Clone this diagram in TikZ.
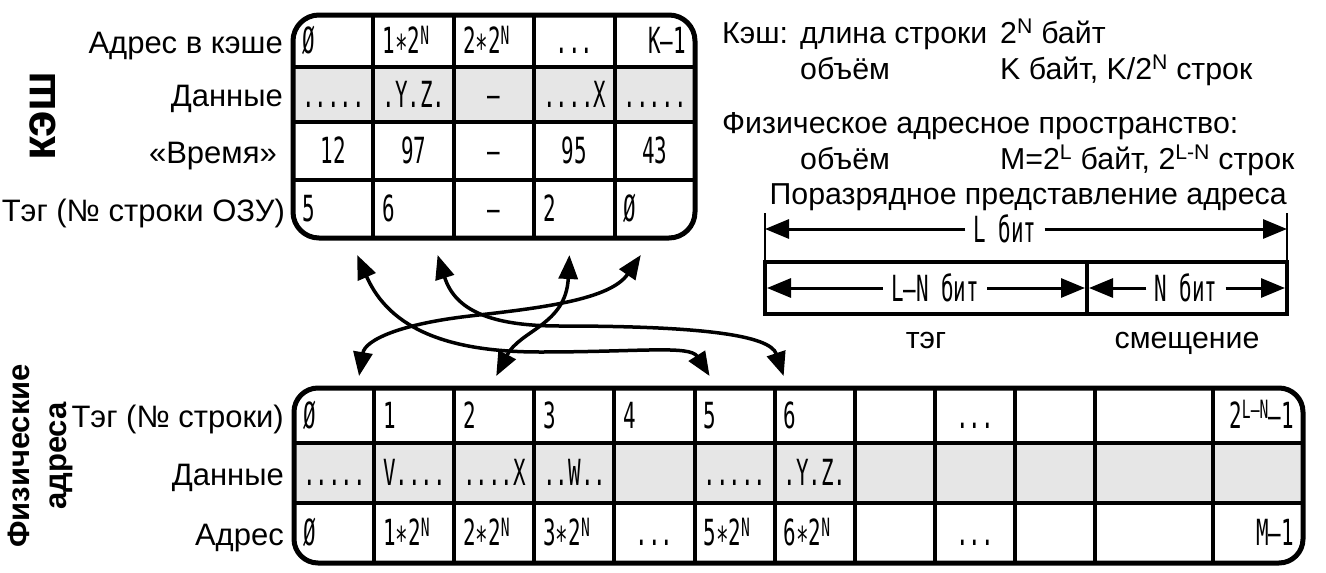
\documentclass[tikz,border=0pt]{standalone}
\usepackage{fontspec}
\setmainfont{Liberation Sans}
\newfontfamily\gost[FakeStretch=0.58]{DejaVu Sans Mono}
\usepackage{xcolor}
\usepackage{tikz}
\usetikzlibrary{calc, positioning, arrows.meta}
\definecolor{datagray}{HTML}{E6E6E6}

\begin{document}
\begin{tikzpicture}[x=1pt, y=-1pt, >={Triangle[length=24pt, width=19pt]},
    cell/.style={inner xsep=9pt, inner ysep=0pt, outer sep=0pt, text width=62pt,
        text height=25pt, text depth=0pt, font=\gost\fontsize{36}{37}\selectfont},
    lft/.style={align=left}, ctr/.style={align=center}, rgt/.style={align=right},
    data/.style={fill=datagray},
    rule/.style={line width=4pt},
    outline/.style={line width=5pt, rounded corners=26pt},
    lbl/.style={inner sep=0pt, font=\fontsize{31}{35}\selectfont},
    note/.style={inner sep=0pt, anchor=base west, font=\fontsize{30.3}{35}\selectfont},
    link/.style={<->, line width=3.5pt},
    dim/.style={->, line width=3pt},
    dimtxt/.style={inner xsep=8pt, font=\gost\fontsize{36}{37}\selectfont},
    part/.style={draw, line width=4.5pt, outer sep=0pt, minimum height=52pt}]
    \useasboundingbox (0,0) rectangle (1326,573);

    % 1. Кэш
    \foreach \j/\al/\t in {1/lft/Ø, 2/lft/{1∗2\textsuperscript{N}}, 3/lft/{2∗2\textsuperscript{N}}, 4/ctr/{...}, 5/rgt/{K–1}} {
        \node[cell, \al, minimum width=80.4pt, minimum height=52pt] (c-1-\j) at ({80.4*\j+252.8}, 41) {\t};
    }
    \foreach \j/\al/\t in {1/ctr/{.....}, 2/ctr/{.Y.Z.}, 3/ctr/{–}, 4/ctr/{....X}, 5/ctr/{.....}} {
        \node[cell, data, \al, minimum width=80.4pt, minimum height=55pt] (c-2-\j) at ({80.4*\j+252.8}, 94.5) {\t};
    }
    \foreach \j/\al/\t in {1/ctr/12, 2/ctr/97, 3/ctr/{–}, 4/ctr/95, 5/ctr/43} {
        \node[cell, \al, minimum width=80.4pt, minimum height=58pt] (c-3-\j) at ({80.4*\j+252.8}, 151) {\t};
    }
    \foreach \j/\al/\t in {1/lft/5, 2/lft/6, 3/ctr/{–}, 4/lft/2, 5/lft/Ø} {
        \node[cell, \al, minimum width=80.4pt, minimum height=58pt] (c-4-\j) at ({80.4*\j+252.8}, 209) {\t};
    }
    \foreach \j in {1,...,4} {
        \draw[rule] (c-1-\j.north east) -- (c-4-\j.south east);
    }
    \foreach \i in {1,2,3} {
        \draw[rule] (c-\i-1.south west) -- (c-\i-5.south east);
    }
    \draw[outline] (c-1-1.north west) rectangle (c-4-5.south east);

    \node[lbl, anchor=base east] (lc-1) at ($(c-1-1.west)+(-10,12)$) {Адрес в кэше};
    \node[lbl, anchor=base east] (lc-2) at ($(c-2-1.west)+(-10,12)$) {Данные};
    \node[lbl, anchor=base east] (lc-3) at ($(c-3-1.west)+(-16,12)$) {«Время»};
    \node[lbl, anchor=base east] (lc-4) at ($(c-4-1.west)+(-8,12)$) {Тэг (№ строки ОЗУ)};
    \node[lbl, font=\bfseries\fontsize{48}{50}\selectfont, rotate=90] (kesh) at (43,116) {кэш};

    % 2. Физические адреса
    \foreach \j/\al/\t [evaluate=\j as \cx using {\j<11 ? 80.1*\j+253.95 : (\j<12 ? 1154 : 1258)},
            evaluate=\j as \cw using {\j<11 ? 80.1 : (\j<12 ? 118 : 90)},
            evaluate=\j as \tw using {\j<11 ? 62.1 : (\j<12 ? 100 : 72)}]
        in {1/lft/Ø, 2/lft/1, 3/lft/2, 4/lft/3, 5/lft/4, 6/lft/5, 7/lft/6, 8/ctr/{}, 9/ctr/{...}, 10/ctr/{}, 11/ctr/{}, 12/rgt/{2\textsuperscript{L–N}–1}} {
        \node[cell, \al, minimum width=\cw pt, text width=\tw pt, minimum height=55pt] (p-1-\j) at (\cx, 415.5) {\t};
    }
    \foreach \j/\al/\t [evaluate=\j as \cx using {\j<11 ? 80.1*\j+253.95 : (\j<12 ? 1154 : 1258)},
            evaluate=\j as \cw using {\j<11 ? 80.1 : (\j<12 ? 118 : 90)},
            evaluate=\j as \tw using {\j<11 ? 62.1 : (\j<12 ? 100 : 72)}]
        in {1/ctr/{.....}, 2/ctr/{V....}, 3/ctr/{....X}, 4/ctr/{..W..}, 5/ctr/{}, 6/ctr/{.....}, 7/ctr/{.Y.Z.}, 8/ctr/{}, 9/ctr/{}, 10/ctr/{}, 11/ctr/{}, 12/ctr/{}} {
        \node[cell, data, \al, minimum width=\cw pt, text width=\tw pt, minimum height=60pt] (p-2-\j) at (\cx, 473) {\t};
    }
    \foreach \j/\al/\t [evaluate=\j as \cx using {\j<11 ? 80.1*\j+253.95 : (\j<12 ? 1154 : 1258)},
            evaluate=\j as \cw using {\j<11 ? 80.1 : (\j<12 ? 118 : 90)},
            evaluate=\j as \tw using {\j<11 ? 62.1 : (\j<12 ? 100 : 72)}]
        in {1/lft/Ø, 2/lft/{1∗2\textsuperscript{N}}, 3/lft/{2∗2\textsuperscript{N}}, 4/lft/{3∗2\textsuperscript{N}}, 5/ctr/{...}, 6/lft/{5∗2\textsuperscript{N}}, 7/lft/{6∗2\textsuperscript{N}}, 8/ctr/{}, 9/ctr/{...}, 10/ctr/{}, 11/ctr/{}, 12/rgt/{M–1}} {
        \node[cell, \al, minimum width=\cw pt, text width=\tw pt, minimum height=60pt] (p-3-\j) at (\cx, 533) {\t};
    }
    \foreach \j in {1,...,11} {
        \draw[rule] (p-1-\j.north east) -- (p-3-\j.south east);
    }
    \foreach \i in {1,2} {
        \draw[rule] (p-\i-1.south west) -- (p-\i-12.south east);
    }
    \draw[outline, rounded corners=24pt] (p-1-1.north west) rectangle (p-3-12.south east);

    \node[lbl, anchor=base east] (lp-1) at ($(p-1-1.west)+(-10,12)$) {Тэг (№ строки)};
    \node[lbl, anchor=base east] (lp-2) at ($(p-2-1.west)+(-10,12)$) {Данные};
    \node[lbl, anchor=base east] (lp-3) at ($(p-3-1.west)+(-10,12)$) {Адрес};
    \node[lbl, font=\bfseries\fontsize{31}{37}\selectfont, align=center, rotate=90] (phys) at (40,456) {Физические\\адреса};

    % 3. Связи строк кэша со строками ОЗУ
    \draw[link] ($(c-4-1.south)+(24,17)$) .. controls (390,330) and (450,352) .. (540,352)
        .. controls (640,352) and (690,345) .. ($(p-1-6.north)+(-25,-12)$);
    \draw[link] ($(c-4-2.south)+(24,17)$) .. controls (455,310) and (490,326) .. (560,326)
        .. controls (700,326) and (770,335) .. ($(p-1-7.north)+(-31,-12)$);
    \draw[link] ($(c-4-4.south)+(-5,17)$) .. controls (566,325) and (520,330) .. ($(p-1-3.north)+(2,-12)$);
    \draw[link] ($(c-4-5.south)+(-14,17)$) .. controls (610,300) and (540,308) .. (470,316)
        .. controls (400,324) and (365,340) .. ($(p-1-1.north)+(25,-12)$);

    % 4. Пояснения
    \node[note] (k-1) at (722,43) {Кэш:};
    \node[note] (k-2) at (800,43) {длина строки};
    \node[note] (k-3) at (1000,43) {2\textsuperscript{N} байт};
    \node[note] (k-4) at (800,79) {объём};
    \node[note] (k-5) at (1000,79) {K байт, K/2\textsuperscript{N} строк};
    \node[note] (f-1) at (722,133) {Физическое адресное пространство:};
    \node[note] (f-2) at (800,169) {объём};
    \node[note] (f-3) at (1000,169) {M=2\textsuperscript{L} байт, 2\textsuperscript{L-N} строк};
    \node[note, anchor=base east] (bits) at (1287,204) {Поразрядное представление адреса};

    % 5. Разряды адреса
    \node[part, minimum width=322pt] (tagbox) at (926,288) {};
    \node[part, minimum width=200pt] (offbox) at (1187,288) {};
    \draw[line width=1.5pt] (tagbox.north west) -- ++(0,-49) coordinate (tl);
    \draw[line width=1.5pt] (offbox.north east) -- ++(0,-49) coordinate (tr);
    \node[dimtxt] (lbit) at (1005,229) {L бит};
    \draw[dim] (lbit) -- (lbit -| tl);
    \draw[dim] (lbit) -- (lbit -| tr);
    \node[dimtxt] (lnbit) at (935,288) {L–N бит};
    \draw[dim, shorten >=2pt] (lnbit) -- (tagbox.west);
    \draw[dim, shorten >=2pt] (lnbit) -- (tagbox.east);
    \node[dimtxt] (nbit) at (1186,288) {N бит};
    \draw[dim, shorten >=2pt] (nbit) -- (offbox.west);
    \draw[dim, shorten >=2pt] (nbit) -- (offbox.east);
    \node[note, anchor=base] (tagname) at ($(tagbox.south)+(0,34)$) {тэг};
    \node[note, anchor=base] (offname) at ($(offbox.south)+(0,34)$) {смещение};
\end{tikzpicture}
\end{document}
